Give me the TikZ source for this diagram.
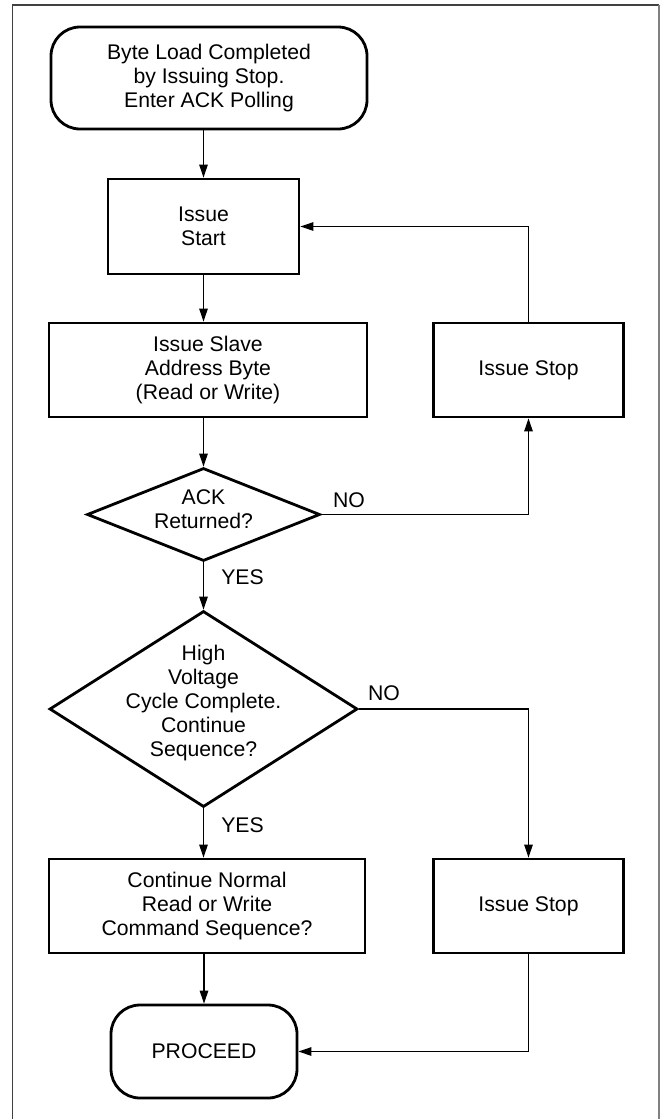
\documentclass[tikz,border=0pt]{standalone}
\usepackage{fontspec}
\setmainfont{Liberation Sans}
\usetikzlibrary{calc,positioning,shapes.geometric,arrows.meta}

\begin{document}
\begin{tikzpicture}[x=1pt,y=-1pt,>={Triangle[length=13pt,width=8.5pt]},
  font=\fontsize{21.2}{24}\selectfont]

\tikzset{procnode/.style={draw,rectangle,line width=2.8pt,inner sep=0,align=center},
termnode/.style={procnode,rounded corners=29pt},
decnode/.style={draw,diamond,line width=2.8pt,inner sep=0},
decnodetext/.style={align=center,inner sep=0},
edgelabel/.style={inner sep=0},
link/.style={line width=1.2pt}}

\useasboundingbox (0,0) rectangle (660,1119);

% Frame
\draw[gray!50!black,line width=1.5pt] (12.7,1119) -- (12.7,5) -- (659,5);
\draw[gray,line width=1.4pt] (659,5) -- (659,1119);

% Left column
\node[termnode,minimum width=316,minimum height=102] (start) at (209,78) {Byte Load Completed\\by Issuing Stop.\\Enter ACK Polling};
\node[procnode,minimum width=191,minimum height=95] (issue) at (203.5,226.5) {Issue\\Start};
\node[procnode,minimum width=318,minimum height=94] (slave) at (208,370) {Issue Slave\\Address Byte\\(Read or Write)};
\node[decnode,minimum width=233,minimum height=93] (ack) at (203.5,514.5) {};
\node[decnodetext] (ackText) at ($(ack)+(0,-5)$) {ACK\\Returned?};
\node[decnode,minimum width=308,minimum height=196] (hv) at (203.5,709) {};
\node[decnodetext] (hvText) at ($(hv)+(0,-6)$) {High\\Voltage\\Cycle Complete.\\Continue\\Sequence?};
\node[procnode,minimum width=316,minimum height=94] (cont) at (207,906) {Continue Normal\\Read or Write\\Command Sequence?};
\node[termnode,minimum width=186,minimum height=93] (proceed) at (204,1051.5) {PROCEED};

% Right column
\node[procnode,minimum width=190,minimum height=94] (stopA) at (528.5,370) {Issue Stop};
\node[procnode,minimum width=190,minimum height=94] (stopB) at (528.5,906) {Issue Stop};

% Branch labels
\node[edgelabel] (noA) at (349,500) {NO};
\node[edgelabel] (noB) at (384,693) {NO};
\node[edgelabel] (yesA) at (242.5,577) {YES};
\node[edgelabel] (yesB) at (242.5,825) {YES};

%% Edges
\foreach \from/\to/\col in {
	start/issue/issue, issue/slave/issue, slave/ack/ack,
	ack/hv/ack, hv/cont/hv, cont/proceed/proceed%
}
	\draw[link,->] (\from.south -| \col) -- (\to.north -| \col);

\draw[link,->] (ack.east) -| (stopA.south);
\draw[link,->] (stopA.north) |- (issue.east);
\draw[link,->] (hv.east) -| (stopB.north);
\draw[link,->] (stopB.south) |- (proceed.east);
\end{tikzpicture}
\end{document}
